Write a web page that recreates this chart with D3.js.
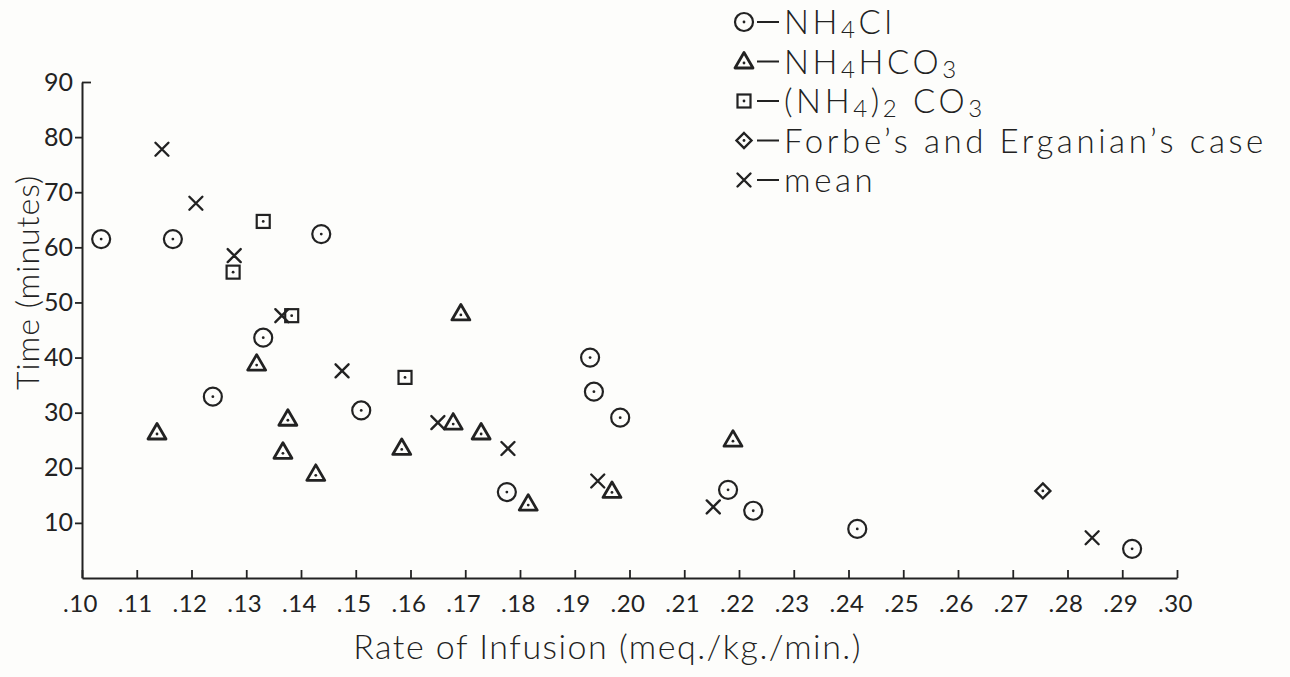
<!DOCTYPE html>
<html>
<head>
<meta charset="utf-8">
<script src="https://cdn.jsdelivr.net/npm/d3@7"></script>
<style>
  html, body { margin: 0; padding: 0; background: #fdfdfb; }
  svg { display: block; }
  text { font-family: Lato, "DejaVu Sans", sans-serif; fill: #222; font-weight: 300; }
  .tick text { font-weight: 400; }
</style>
</head>
<body>
<svg id="chart" width="1290" height="677"></svg>
<script>
// ---- data (rate of infusion meq./kg./min., time minutes) ----
const nh4cl = [
  [0.1035, 61.5], [0.1166, 61.5], [0.1437, 62.4], [0.1331, 43.6], [0.1239, 32.9],
  [0.1510, 30.4], [0.1928, 40.0], [0.1935, 33.8], [0.1983, 29.1], [0.1776, 15.6],
  [0.2180, 16.0], [0.2226, 12.2], [0.2416, 8.9], [0.2918, 5.3]
];
const nh4hco3 = [
  [0.1137, 26.4], [0.1319, 38.9], [0.1376, 28.9], [0.1367, 22.9], [0.1427, 18.9],
  [0.1584, 23.6], [0.1692, 48.0], [0.1678, 28.2], [0.1729, 26.4], [0.1815, 13.5],
  [0.1968, 15.8], [0.2189, 25.1]
];
const nh42co3 = [
  [0.1331, 64.7], [0.1276, 55.5], [0.1383, 47.6], [0.1590, 36.4]
];
const forbes = [
  [0.2755, 15.8]
];
const means = [
  [0.1146, 77.8], [0.1208, 68.0], [0.1278, 58.5], [0.1365, 47.6], [0.1475, 37.6],
  [0.1650, 28.2], [0.1778, 23.5], [0.1942, 17.6], [0.2153, 12.9], [0.2845, 7.3]
];
const xTickValues = [0.10, 0.11, 0.12, 0.13, 0.14, 0.15, 0.16, 0.17, 0.18, 0.19, 0.20,
                     0.21, 0.22, 0.23, 0.24, 0.25, 0.26, 0.27, 0.28, 0.29, 0.30];
const xTickLabels = [".10", ".11", ".12", ".13", ".14", ".15", ".16", ".17", ".18", ".19", ".20",
                     ".21", ".22", ".23", ".24", ".25", ".26", ".27", ".28", ".29", ".30"];
const yTickValues = [10, 20, 30, 40, 50, 60, 70, 80, 90];
const yTickLabels = ["10", "20", "30", "40", "50", "60", "70", "80", "90"];
const legendItems = [
  { shape: "circle",   parts: [["NH", 0], ["4", 1], ["Cl", 0]] },
  { shape: "triangle", parts: [["NH", 0], ["4", 1], ["HCO", 0], ["3", 1]] },
  { shape: "square",   parts: [["(NH", 0], ["4", 1], [")", 0], ["2", 1], [" CO", 0], ["3", 1]] },
  { shape: "diamond",  parts: [["Forbe’s and Erganian’s case", 0]] },
  { shape: "cross",    parts: [["mean", 0]] }
];
const xTitle = "Rate of Infusion (meq./kg./min.)";
const yTitle = "Time (minutes)";

// ---- layout ----
const ink = "#222";
const svg = d3.select("#chart");
const x = d3.scaleLinear().domain([0.10, 0.30]).range([82, 1177]);
const y = d3.scaleLinear().domain([0, 90]).range([578, 82]);

// axes
const xAxis = d3.axisBottom(x)
  .tickValues(xTickValues)
  .tickFormat((d, i) => xTickLabels[i])
  .tickSizeInner(-8).tickSizeOuter(0).tickPadding(17);
const gx = svg.append("g").attr("transform", `translate(0,${y(0)})`).call(xAxis);
gx.select(".domain").attr("stroke", ink).attr("stroke-width", 2);
gx.selectAll(".tick line").attr("stroke", ink).attr("stroke-width", 1.8);
gx.selectAll(".tick text").attr("font-size", 24).attr("fill", ink)
  .attr("font-family", "Lato, 'DejaVu Sans', sans-serif")
  .attr("dx", -2).attr("letter-spacing", 0.5);

const yAxis = d3.axisLeft(y)
  .tickValues(yTickValues)
  .tickFormat((d, i) => yTickLabels[i])
  .tickSizeInner(7).tickSizeOuter(0).tickPadding(2);
const gy = svg.append("g").attr("transform", `translate(${x(0.10)},0)`).call(yAxis);
gy.select(".domain").attr("stroke", ink).attr("stroke-width", 2);
gy.selectAll(".tick line").attr("stroke", ink).attr("stroke-width", 1.8);
gy.selectAll(".tick text").attr("font-size", 25).attr("fill", ink)
  .attr("font-family", "Lato, 'DejaVu Sans', sans-serif");
// the top tick is drawn as a cap pointing inward
gy.selectAll(".tick").filter(d => d === 90).select("line").attr("x2", 9);

// axis titles
svg.append("text")
  .attr("x", x(0.196)).attr("y", 659)
  .attr("text-anchor", "middle").attr("font-size", 34).attr("letter-spacing", 1.5)
  .text(xTitle);
svg.append("text")
  .attr("transform", `translate(39,${(y(50) + y(70)) / 2 + 35}) rotate(-90)`)
  .attr("text-anchor", "middle").attr("font-size", 32).attr("letter-spacing", 1)
  .text(yTitle);

// ---- marker drawing ----
function drawMarker(g, shape) {
  const sw = 2.2;
  if (shape === "circle") {
    g.append("circle").attr("r", 9).attr("fill", "none").attr("stroke", ink).attr("stroke-width", sw);
    g.append("circle").attr("r", 1.4).attr("fill", ink);
  } else if (shape === "triangle") {
    g.append("path").attr("d", "M0,-9L9,6.5L-9,6.5Z")
      .attr("fill", "none").attr("stroke", ink).attr("stroke-width", 2.8).attr("stroke-linejoin", "round");
    g.append("circle").attr("cy", 1.5).attr("r", 1.4).attr("fill", ink);
  } else if (shape === "square") {
    g.append("rect").attr("x", -6.5).attr("y", -6.5).attr("width", 13).attr("height", 13)
      .attr("fill", "none").attr("stroke", ink).attr("stroke-width", sw);
    g.append("circle").attr("r", 1.4).attr("fill", ink);
  } else if (shape === "diamond") {
    g.append("path").attr("d", "M0,-7.5L7.5,0L0,7.5L-7.5,0Z")
      .attr("fill", "none").attr("stroke", ink).attr("stroke-width", 2.4);
    g.append("circle").attr("r", 1.4).attr("fill", ink);
  } else if (shape === "cross") {
    g.append("path").attr("d", "M-6.5,-6.5L6.5,6.5M6.5,-6.5L-6.5,6.5")
      .attr("fill", "none").attr("stroke", ink).attr("stroke-width", 2.4).attr("stroke-linecap", "round");
  }
}

const series = [
  { data: nh4cl, shape: "circle" },
  { data: nh4hco3, shape: "triangle" },
  { data: nh42co3, shape: "square" },
  { data: forbes, shape: "diamond" },
  { data: means, shape: "cross" }
];
series.forEach(s => {
  svg.append("g").selectAll("g").data(s.data).join("g")
    .attr("transform", d => `translate(${x(d[0])},${y(d[1])})`)
    .each(function () { drawMarker(d3.select(this), s.shape); });
});

// ---- legend ----
const legend = svg.append("g").attr("transform", "translate(744,0)");
legendItems.forEach((item, i) => {
  const base = 34 + i * 39.5;
  const mid = base - 12;
  const g = legend.append("g");
  drawMarker(g.append("g").attr("transform", `translate(0,${mid})`), item.shape);
  g.append("line").attr("x1", 13).attr("x2", 35).attr("y1", mid).attr("y2", mid)
    .attr("stroke", ink).attr("stroke-width", 2);
  const t = g.append("text").attr("x", 40).attr("y", base)
    .attr("font-size", 33).attr("letter-spacing", 3.6);
  item.parts.forEach(([str, sub], j) => {
    const prevSub = j > 0 && item.parts[j - 1][1] === 1;
    let dy = 0;
    if (sub && !prevSub) dy = 4;
    else if (!sub && prevSub) dy = -4;
    const ts = t.append("tspan").text(str).attr("dy", dy);
    if (sub) ts.attr("font-size", 24);
  });
});
</script>
</body>
</html>
